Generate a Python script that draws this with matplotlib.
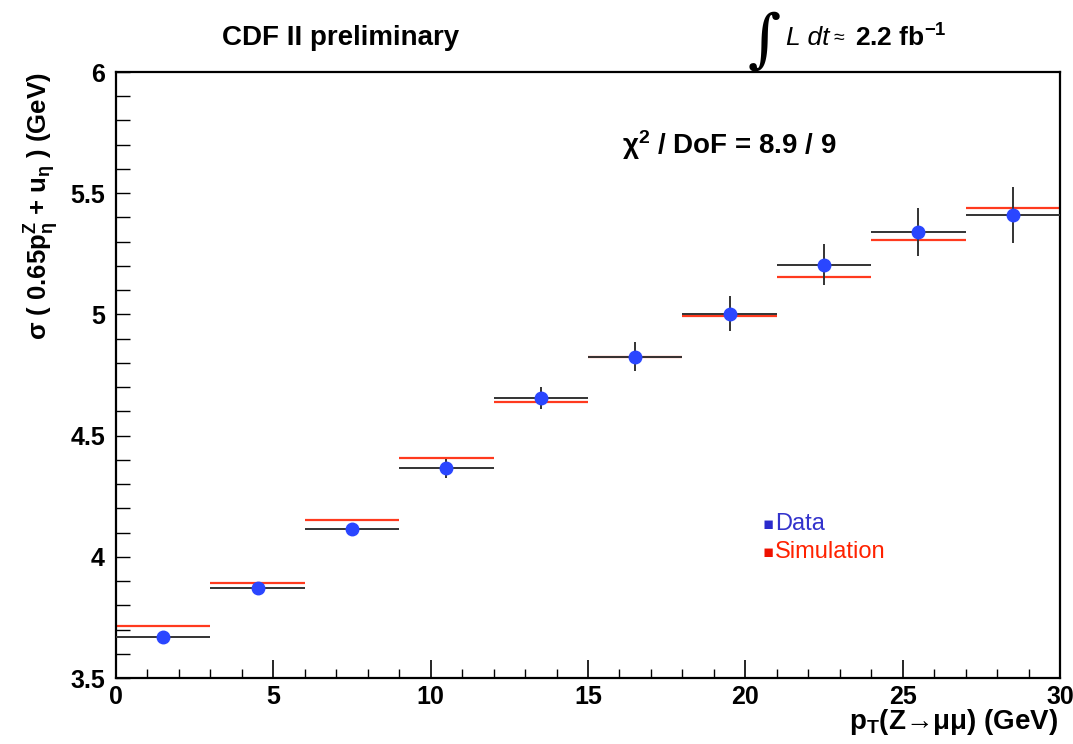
import matplotlib
matplotlib.use("Agg")
import matplotlib.pyplot as plt
from matplotlib.ticker import MultipleLocator

# bins in pT(Z) and the measured / simulated widths
bin_edges = [0, 3, 6, 9, 12, 15, 18, 21, 24, 27, 30]
data_vals = [3.670, 3.870, 4.113, 4.365, 4.655, 4.826, 5.003, 5.205, 5.342, 5.410]
data_errs = [0.010, 0.015, 0.020, 0.038, 0.046, 0.060, 0.072, 0.085, 0.099, 0.115]
sim_vals = [3.714, 3.893, 4.150, 4.408, 4.638, 4.826, 4.994, 5.155, 5.307, 5.440]

plt.rcParams["font.family"] = ["Liberation Sans", "DejaVu Sans"]
plt.rcParams["mathtext.fontset"] = "custom"
plt.rcParams["mathtext.rm"] = "Liberation Sans"
plt.rcParams["mathtext.it"] = "Liberation Sans:italic"
plt.rcParams["mathtext.bf"] = "Liberation Sans:bold"
plt.rcParams["mathtext.default"] = "bf"

BLUE = "#2a46ff"
RED = "#ff3a1e"
DARK = "#333333"


def fx(px):
    return px / 1073


def fy(px):
    return 1 - px / 744


def main():
    fig = plt.figure(figsize=(10.73, 7.44), dpi=100)
    ax = fig.add_axes([0.1081, 0.0887, 0.8798, 0.8145])

    centers = [(a + b) / 2 for a, b in zip(bin_edges[:-1], bin_edges[1:])]
    half = [(b - a) / 2 for a, b in zip(bin_edges[:-1], bin_edges[1:])]

    # simulation drawn as flat red bin lines
    ax.hlines(sim_vals, bin_edges[:-1], bin_edges[1:], colors=RED, lw=1.6, zorder=2)
    # data: black error crosses with blue dots
    ax.errorbar(centers, data_vals, xerr=half, yerr=data_errs, fmt="none",
                ecolor=DARK, elinewidth=1.4, capsize=0, zorder=3)
    ax.plot(centers, data_vals, "o", color=BLUE, ms=9, mec=BLUE, zorder=4)

    ax.set_xlim(0, 30)
    ax.set_ylim(3.5, 6)
    ax.xaxis.set_major_locator(MultipleLocator(5))
    ax.xaxis.set_minor_locator(MultipleLocator(1))
    ax.yaxis.set_minor_locator(MultipleLocator(0.1))
    ax.set_yticks([3.5, 4, 4.5, 5, 5.5, 6])
    ax.set_yticklabels(["3.5", "4", "4.5", "5", "5.5", "6"])

    ax.tick_params(axis="x", which="major", direction="in", length=13, width=1.2,
                   pad=5, labelsize=18)
    ax.tick_params(axis="x", which="minor", direction="in", length=6.5, width=1.0)
    ax.tick_params(axis="y", which="both", direction="in", length=10, width=1.0,
                   pad=8, labelsize=18)
    for lbl in ax.get_xticklabels() + ax.get_yticklabels():
        lbl.set_fontweight("bold")
    for sp in ax.spines.values():
        sp.set_linewidth(1.6)

    fig.text(fx(1058), fy(722), "p$_{T}$(Z→μμ) (GeV)",
             ha="right", va="center", fontsize=20, fontweight="bold")
    fig.text(fx(42), fy(72), "σ ( 0.65p$_{η}^{Z}$ + u$_{η}$ ) (GeV)",
             rotation=90, ha="center", va="top", fontsize=18.5, fontweight="bold")

    fig.text(fx(341), fy(38), "CDF II preliminary", ha="center",
             va="center", fontsize=20, fontweight="bold")
    fig.text(fx(748), fy(42), "∫", family="DejaVu Serif", fontsize=46,
             ha="left", va="center")
    fig.text(fx(786), fy(38), "L dt", style="italic", fontsize=19,
             ha="left", va="center")
    fig.text(fx(834), fy(38), "≈", fontsize=14, ha="left", va="center")
    fig.text(fx(855), fy(38), "2.2 fb$^{-1}$", fontsize=19,
             fontweight="bold", ha="left", va="center")

    fig.text(fx(622), fy(145), "χ$^{2}$ / DoF = 8.9 / 9", fontsize=20,
             fontweight="bold", ha="left", va="center")

    fig.text(fx(768), fy(524), "▪", color="#2a2acc", fontsize=12,
             ha="center", va="center", family="DejaVu Sans")
    fig.text(fx(775), fy(524), "Data", color="#3333cc", fontsize=17,
             ha="left", va="center")
    fig.text(fx(768), fy(552), "▪", color="#ee1100", fontsize=12,
             ha="center", va="center", family="DejaVu Sans")
    fig.text(fx(775), fy(552), "Simulation", color="#ff2200", fontsize=17,
             ha="left", va="center")

    fig.savefig("out.png", dpi=100)


if __name__ == "__main__":
    main()
